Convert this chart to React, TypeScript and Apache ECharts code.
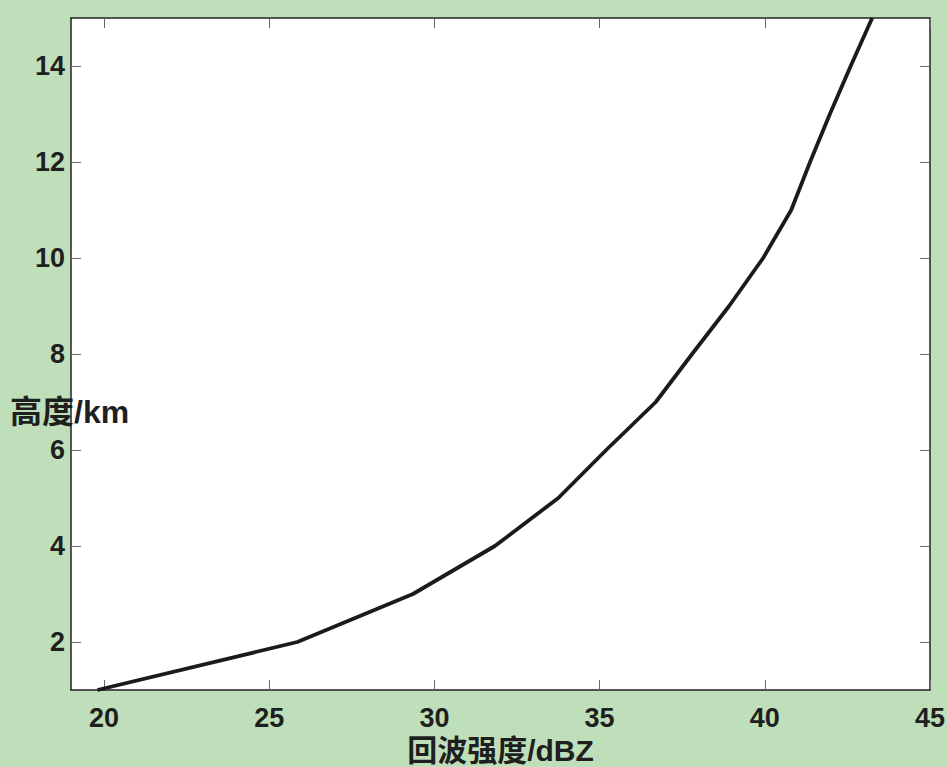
import React, { useEffect, useRef } from "react";
import * as echarts from "echarts";

const intensity = [19.8, 25.85, 29.35, 31.83, 33.75, 35.2, 36.7, 37.8, 38.92, 39.95, 40.8, 41.37, 41.97, 42.6, 43.25];
const height = [1, 2, 3, 4, 5, 6, 7, 8, 9, 10, 11, 12, 13, 14, 15];
const xTicks = [20, 25, 30, 35, 40, 45];
const yTicks = [2, 4, 6, 8, 10, 12, 14];
const xName = "回波强度/dBZ";
const yName = "高度/km";

const FONT = '"Liberation Sans", Arial, "Noto Sans CJK SC", sans-serif';

export default function App() {
  const ref = useRef<HTMLDivElement>(null);
  useEffect(() => {
    if (!ref.current) return;
    const chart = echarts.init(ref.current, undefined, { renderer: "svg" });
    const axisLine = { show: true, lineStyle: { color: "#222", width: 1.5 } };
    const tick = (vals: number[]) => ({
      show: true,
      inside: true,
      length: 10,
      customValues: vals,
      lineStyle: { color: "#666", width: 1 },
    });
    const label = {
      color: "#1f1f1f",
      fontSize: 27,
      fontWeight: "bold",
      fontFamily: FONT,
    };
    chart.setOption({
      animation: false,
      backgroundColor: "#bfdfba",
      grid: {
        left: 71,
        right: 17,
        top: 18,
        bottom: 77,
        containLabel: false,
        outerBoundsMode: "none",
        show: true,
        backgroundColor: "#ffffff",
        borderWidth: 0,
      },
      xAxis: [
        {
          type: "value",
          min: 19,
          max: 45,
          position: "bottom",
          axisLine,
          axisTick: tick(xTicks),
          splitLine: { show: false },
          axisLabel: { ...label, margin: 14, customValues: xTicks, showMaxLabel: true },
          name: xName,
          nameLocation: "middle",
          nameGap: 45,
          nameTextStyle: { color: "#1f1f1f", fontSize: 30, fontWeight: "bold", fontFamily: FONT },
        },
        {
          type: "value",
          min: 19,
          max: 45,
          position: "top",
          axisLine,
          axisTick: tick(xTicks),
          splitLine: { show: false },
          axisLabel: { show: false, customValues: xTicks },
        },
      ],
      yAxis: [
        {
          type: "value",
          min: 1,
          max: 15,
          position: "left",
          axisLine,
          axisTick: tick(yTicks),
          splitLine: { show: false },
          axisLabel: { ...label, margin: 6, customValues: yTicks },
        },
        {
          type: "value",
          min: 1,
          max: 15,
          position: "right",
          axisLine,
          axisTick: tick(yTicks),
          splitLine: { show: false },
          axisLabel: { show: false, customValues: yTicks },
        },
      ],
      graphic: [
        {
          type: "text",
          left: 10,
          top: 396,
          z: 100,
          style: {
            text: yName,
            fill: "#1f1f1f",
            font: `bold 32px ${FONT}`,
          },
        },
      ],
      series: [
        {
          type: "line",
          data: intensity.map((x, i) => [x, height[i]]),
          showSymbol: false,
          symbol: "none",
          clip: true,
          lineStyle: { color: "#1c1a1a", width: 3.8 },
        },
      ],
    });
    return () => chart.dispose();
  }, []);
  return <div ref={ref} style={{ width: 947, height: 767, position: "absolute", left: 0, top: 0 }} />;
}
